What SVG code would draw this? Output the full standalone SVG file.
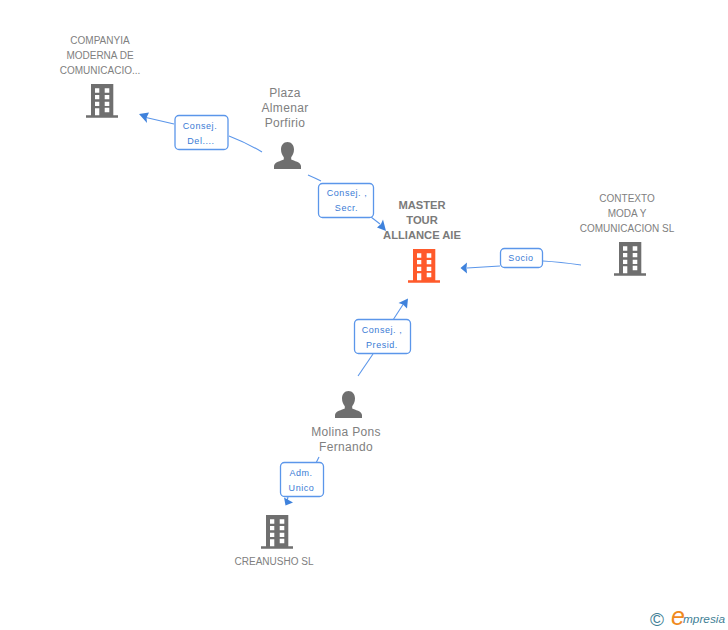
<svg xmlns="http://www.w3.org/2000/svg" width="728" height="630" viewBox="0 0 728 630">
<style>
text{font-family:"Liberation Sans",Arial,sans-serif}
.n{font-size:10px;fill:#808080;text-anchor:middle}
.p{font-size:12px;fill:#808080;text-anchor:middle;letter-spacing:.32px}
.t{font-size:11.200px;font-weight:bold;fill:#7a7a7a;text-anchor:middle}
.l{font-size:9px;fill:#3a7bd5;text-anchor:middle;letter-spacing:.55px}
.b{fill:#fff;stroke:#5b96ea;stroke-width:1.3}
.c{fill:none;stroke:#5b96ea;stroke-width:1.1}
.a{fill:#3f82dc}
.g{fill:#6f6f6f}
.o{fill:#ff5a2b}
</style>
<defs>
<path id="bld" fill-rule="evenodd" d="M5 0H27.300V31.300H32V33.700H0V31.300H5ZM9 4.300V8.700H13.300V4.300ZM18.700 4.300V8.700H23.300V4.300ZM9 11V15.300H13.300V11ZM18.700 11V15.300H23.300V11ZM9 17.700V22H13.300V17.700ZM18.700 17.700V22H23.300V17.700ZM9 24.300V31.300H13.300V24.300ZM18.700 23.700V28.300H23.300V23.700Z"/>
<path id="per" d="M13.500 0C17.500 0 20 3.300 20 7.500C20 11 18.500 13.500 17.200 15.300V17.500C20 19 26.800 20 27 24V27H0V24C.2 20 7 19 9.800 17.500V15.300C8.500 13.500 7 11 7 7.500C7 3.300 9.500 0 13.500 0Z"/>
</defs>
<g id="connectors">
<path class="c" d="M174 124L146 117.500"/><path class="a" d="M139 114L149 112.500L146.500 117.800L147 123Z"/>
<path class="c" d="M229 136Q247 143 262 152"/>
<path class="c" d="M308 175Q315 178 321 181"/>
<path class="c" d="M371 217L380 224"/><path class="a" d="M386 231L377 227.500L381 224L383 219.500Z"/>
<path class="c" d="M581 265Q560 262 543 261"/>
<path class="c" d="M500 266L467 268"/><path class="a" d="M460.500 268L467 262.500L466.500 268L467 273.500Z"/>
<path class="c" d="M358 376L373 354"/>
<path class="c" d="M393 320L404 303"/><path class="a" d="M408 298.500L407 308.500L403 304.500L398.500 303Z"/>
<path class="c" d="M319 457L316 463"/>
<path class="c" d="M288 497L287 501"/><path class="a" d="M285.500 505.500L284 497.500L288.500 500L293 502.500Z"/>
</g>
<g id="edge-label-1"><rect class="b" x="175" y="115.500" width="53" height="34" rx="4"/><text class="l" x="200" y="128.500">Consej.</text><text class="l" x="201" y="143.500">Del....</text></g>
<g id="edge-label-2"><rect class="b" x="318.500" y="183.500" width="55" height="34" rx="4"/><text class="l" x="347" y="195.500">Consej. ,</text><text class="l" x="346.500" y="210.500">Secr.</text></g>
<g id="edge-label-3"><rect class="b" x="500.500" y="248.500" width="42" height="19" rx="4"/><text class="l" x="521" y="260.500">Socio</text></g>
<g id="edge-label-4"><rect class="b" x="354.500" y="319.500" width="56" height="34" rx="4"/><text class="l" x="382" y="332.500">Consej. ,</text><text class="l" x="382" y="347.500">Presid.</text></g>
<g id="edge-label-5"><rect class="b" x="280.500" y="462.500" width="43" height="34" rx="4"/><text class="l" x="301" y="475.500">Adm.</text><text class="l" x="301.500" y="490.500">Unico</text></g>
<g id="node-companyia"><text class="n" x="100" y="44">COMPANYIA</text><text class="n" x="100" y="59">MODERNA DE</text><text class="n" x="100" y="74">COMUNICACIO...</text><use href="#bld" class="g" x="86" y="84"/></g>
<g id="node-plaza"><text class="p" x="285" y="97">Plaza</text><text class="p" x="285" y="112">Almenar</text><text class="p" x="285" y="127">Porfirio</text><use href="#per" class="g" x="274" y="142"/></g>
<g id="node-master"><text class="t" x="422" y="209">MASTER</text><text class="t" x="422" y="224">TOUR</text><text class="t" x="422" y="239">ALLIANCE AIE</text><use href="#bld" class="o" x="408" y="249"/></g>
<g id="node-contexto"><text class="n" x="627" y="202">CONTEXTO</text><text class="n" x="627" y="217">MODA Y</text><text class="n" x="627" y="232">COMUNICACION SL</text><use href="#bld" class="g" x="614" y="242"/></g>
<g id="node-molina"><use href="#per" class="g" x="335" y="391"/><text class="p" x="346" y="436">Molina Pons</text><text class="p" x="346" y="451">Fernando</text></g>
<g id="node-creanusho"><use href="#bld" class="g" x="261" y="515"/><text class="n" x="274" y="565">CREANUSHO SL</text></g>
<g id="logo"><text x="650" y="626" font-size="19" fill="#3f7f96">©</text><text x="671" y="625" font-size="25" font-style="italic" fill="#f08a1d">e</text><text x="683" y="623" font-size="11.800" font-style="italic" fill="#3f7f96">mpresia</text></g>
</svg>
